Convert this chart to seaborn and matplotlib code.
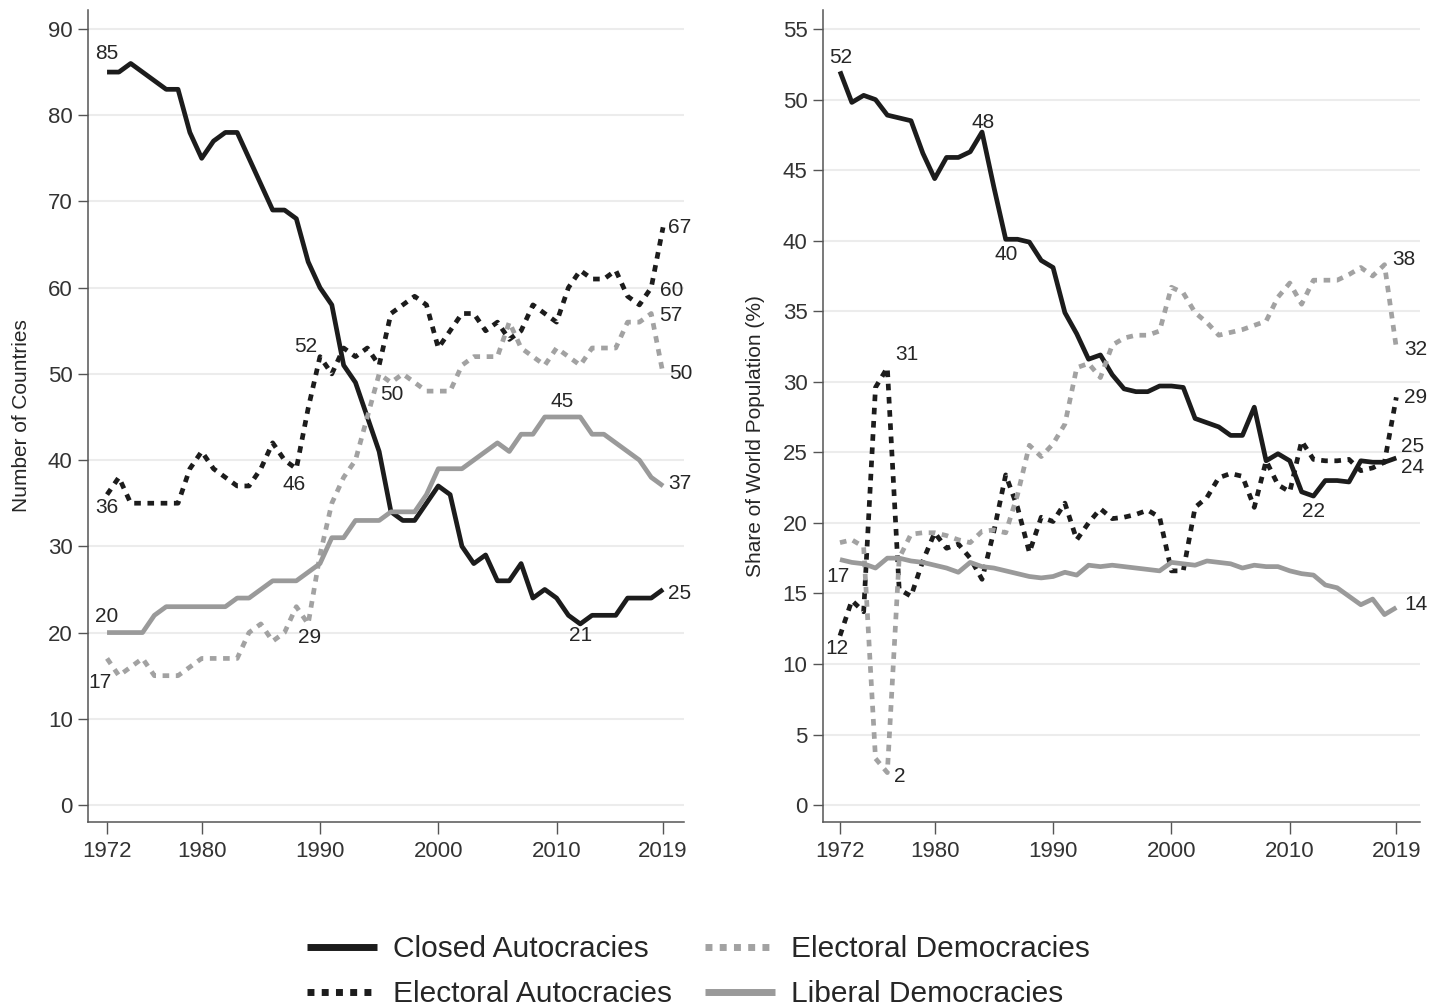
import matplotlib
matplotlib.use("Agg")
import matplotlib.pyplot as plt
from matplotlib.lines import Line2D
import pandas as pd
import seaborn as sns

# ---------------------------------------------------------------- data
years = list(range(1972, 2020))
regimes = ["Closed Autocracies", "Electoral Autocracies",
           "Electoral Democracies", "Liberal Democracies"]

# Number of countries per regime type
closed_aut_countries = [85, 85, 86, 85, 84, 83, 83, 78, 75, 77,
                        78, 78, 75, 72, 69, 69, 68, 63, 60, 58,
                        51, 49, 45, 41, 34, 33, 33, 35, 37, 36,
                        30, 28, 29, 26, 26, 28, 24, 25, 24, 22,
                        21, 22, 22, 22, 24, 24, 24, 25]
electoral_aut_countries = [36, 38, 35, 35, 35, 35, 35, 39, 41, 39,
                           38, 37, 37, 39, 42, 40, 39, 46, 52, 50,
                           53, 52, 53, 51, 57, 58, 59, 58, 53, 55,
                           57, 57, 55, 56, 54, 55, 58, 57, 56, 60,
                           62, 61, 61, 62, 59, 58, 60, 67]
electoral_dem_countries = [17, 15, 16, 17, 15, 15, 15, 16, 17, 17,
                           17, 17, 20, 21, 19, 20, 23, 21, 29, 35,
                           38, 40, 45, 50, 49, 50, 49, 48, 48, 48,
                           51, 52, 52, 52, 56, 53, 52, 51, 53, 52,
                           51, 53, 53, 53, 56, 56, 57, 50]
liberal_dem_countries = [20, 20, 20, 20, 22, 23, 23, 23, 23, 23,
                         23, 24, 24, 25, 26, 26, 26, 27, 28, 31,
                         31, 33, 33, 33, 34, 34, 34, 36, 39, 39,
                         39, 40, 41, 42, 41, 43, 43, 45, 45, 45,
                         45, 43, 43, 42, 41, 40, 38, 37]

# Share of world population (%) per regime type
closed_aut_pop = [52.0, 49.8, 50.3, 50.0, 48.9, 48.7, 48.5, 46.2, 44.4, 45.9,
                  45.9, 46.3, 47.7, 43.8, 40.1, 40.1, 39.9, 38.6, 38.1, 34.9,
                  33.4, 31.6, 31.9, 30.5, 29.5, 29.3, 29.3, 29.7, 29.7, 29.6,
                  27.4, 27.1, 26.8, 26.2, 26.2, 28.2, 24.4, 24.9, 24.4, 22.2,
                  21.9, 23.0, 23.0, 22.9, 24.4, 24.3, 24.3, 24.6]
electoral_aut_pop = [12.0, 14.5, 13.7, 29.6, 31.0, 15.3, 14.8, 17.3, 19.3, 18.2,
                     18.5, 17.5, 16.0, 19.4, 23.4, 21.1, 17.9, 20.4, 20.1, 21.4,
                     18.8, 20.0, 21.0, 20.3, 20.4, 20.6, 20.9, 20.4, 16.6, 16.6,
                     21.1, 21.8, 23.2, 23.5, 23.3, 21.1, 24.4, 22.7, 22.2, 25.8,
                     24.5, 24.4, 24.4, 24.5, 23.7, 23.9, 24.3, 28.9]
electoral_dem_pop = [18.6, 18.8, 18.3, 3.3, 2.3, 17.5, 19.2, 19.3, 19.3, 19.1,
                     18.8, 18.6, 19.4, 19.5, 19.3, 22.0, 25.5, 24.7, 25.6, 27.0,
                     31.0, 31.3, 30.3, 32.6, 33.1, 33.3, 33.3, 33.6, 36.7, 36.3,
                     34.9, 34.2, 33.3, 33.5, 33.7, 34.0, 34.3, 36.0, 37.0, 35.5,
                     37.2, 37.2, 37.2, 37.6, 38.1, 37.5, 38.3, 32.4]
liberal_dem_pop = [17.4, 17.2, 17.1, 16.8, 17.5, 17.5, 17.3, 17.2, 17.0, 16.8,
                   16.5, 17.2, 16.9, 16.8, 16.6, 16.4, 16.2, 16.1, 16.2, 16.5,
                   16.3, 17.0, 16.9, 17.0, 16.9, 16.8, 16.7, 16.6, 17.2, 17.1,
                   17.0, 17.3, 17.2, 17.1, 16.8, 17.0, 16.9, 16.9, 16.6, 16.4,
                   16.3, 15.6, 15.4, 14.8, 14.2, 14.6, 13.5, 14.0]

x_ticks = [1972, 1980, 1990, 2000, 2010, 2019]
y_ticks_countries = list(range(0, 91, 10))
y_ticks_pop = list(range(0, 56, 5))

# value labels: (regime, year, x offset px, y offset px)
labels_countries = [
    ("Closed Autocracies", 1972, 0, 19),
    ("Closed Autocracies", 2012, 0, -12),
    ("Closed Autocracies", 2019, 17, -4),
    ("Electoral Autocracies", 1972, 0, -13),
    ("Electoral Autocracies", 1989, -14, -76),
    ("Electoral Autocracies", 1990, -14, 10),
    ("Electoral Autocracies", 2018, 20, -3),
    ("Electoral Autocracies", 2019, 17, 0),
    ("Electoral Democracies", 1972, -7, -24),
    ("Electoral Democracies", 1990, -10, -83),
    ("Electoral Democracies", 1995, 13, -21),
    ("Electoral Democracies", 2018, 20, -2),
    ("Electoral Democracies", 2019, 18, 0),
    ("Liberal Democracies", 1972, 0, 16),
    ("Liberal Democracies", 2010, 6, 15),
    ("Liberal Democracies", 2019, 17, 2),
]
labels_pop = [
    ("Closed Autocracies", 1972, 1, 14),
    ("Closed Autocracies", 1984, 1, 10),
    ("Closed Autocracies", 1986, 0, -15),
    ("Closed Autocracies", 2012, 0, -15),
    ("Closed Autocracies", 2019, 16, 11),
    ("Electoral Autocracies", 1972, -3, -13),
    ("Electoral Autocracies", 1976, 20, 13),
    ("Electoral Autocracies", 2018, 28, -5),
    ("Electoral Autocracies", 2019, 19, 0),
    ("Electoral Democracies", 1976, 12, -4),
    ("Electoral Democracies", 2018, 19, 5),
    ("Electoral Democracies", 2019, 19, -2),
    ("Liberal Democracies", 1972, -2, -17),
    ("Liberal Democracies", 2019, 20, 3),
]

# ---------------------------------------------------------------- styles
palette = {
    "Closed Autocracies": "#1c1c1c",
    "Electoral Autocracies": "#1c1c1c",
    "Electoral Democracies": "#a2a2a2",
    "Liberal Democracies": "#9a9a9a",
}
dash_map = {
    "Closed Autocracies": "",
    "Electoral Autocracies": (1.4, 1.4),
    "Electoral Democracies": (1.4, 1.4),
    "Liberal Democracies": "",
}

sns.set_theme(style="ticks")
plt.rcParams["font.family"] = ["Liberation Sans", "DejaVu Sans"]

W, H = 1435, 1008
fig = plt.figure(figsize=(W / 100, H / 100), dpi=100)
fig.patch.set_facecolor("white")


def long_frame(series):
    rows = []
    for regime, vals in zip(regimes, series):
        for yr, v in zip(years, vals):
            rows.append({"year": yr, "value": v, "regime": regime})
    return pd.DataFrame(rows)


def draw_panel(rect, series, xlim, ylim, yticks, ylabel, ylabel_xy, labels):
    ax = fig.add_axes(rect)
    df = long_frame(series)
    sns.lineplot(data=df, x="year", y="value", hue="regime", style="regime",
                 palette=palette, dashes=dash_map, hue_order=regimes,
                 style_order=regimes, linewidth=3.4, estimator=None,
                 sort=False, legend=False, ax=ax)
    for ln in ax.lines:
        ln.set_dash_capstyle("butt")
        ln.set_solid_capstyle("butt")
        ln.set_solid_joinstyle("round")

    ax.set_xlim(*xlim)
    ax.set_ylim(*ylim)
    ax.set_xticks(x_ticks)
    ax.set_yticks(yticks)
    ax.set_xlabel("")
    ax.set_ylabel(ylabel, fontsize=15, color="#262626", va="center")
    ax.yaxis.set_label_coords(*ylabel_xy)

    ax.yaxis.grid(True, color="#ececec", linewidth=1.5)
    ax.xaxis.grid(False)
    ax.set_axisbelow(True)
    sns.despine(ax=ax)
    for side in ("left", "bottom"):
        ax.spines[side].set_color("#555555")
        ax.spines[side].set_linewidth(1.1)
    ax.tick_params(axis="y", length=7, width=1.0, color="#555555", pad=4,
                   labelsize=16, labelcolor="#333333")
    ax.tick_params(axis="x", length=8.5, width=1.0, color="#555555", pad=5,
                   labelsize=16, labelcolor="#333333")

    lookup = {r: dict(zip(years, s)) for r, s in zip(regimes, series)}
    for regime, yr, dx, dy in labels:
        v = lookup[regime][yr]
        ax.annotate(f"{v:.0f}", xy=(yr, v), xytext=(dx, dy),
                    textcoords="offset pixels", ha="center", va="center",
                    fontsize=15, color="#262626")
    return ax


draw_panel([88 / W, 186 / H, 596 / W, 812 / H],
           [closed_aut_countries, electoral_aut_countries,
            electoral_dem_countries, liberal_dem_countries],
           (1970.39, 2020.77), (-1.97, 92.2), y_ticks_countries,
           "Number of Countries", (-0.111, 0.5), labels_countries)

draw_panel([822.7 / W, 186 / H, 597.3 / W, 812 / H],
           [closed_aut_pop, electoral_aut_pop,
            electoral_dem_pop, liberal_dem_pop],
           (1970.54, 2021.0), (-1.2, 56.35), y_ticks_pop,
           "Share of World Population (%)", (-0.112, 0.475), labels_pop)

# shared legend under both panels
handles = []
for r in regimes:
    if dash_map[r] == "":
        h = Line2D([], [], color=palette[r], linewidth=5, solid_capstyle="butt")
    else:
        h = Line2D([], [], color=palette[r], linewidth=5, dashes=(1.0, 1.05),
                   dash_capstyle="butt")
    handles.append(h)
fig.legend(handles, regimes, loc="upper left",
           bbox_to_anchor=(307 / W, 1 - 935 / H), ncol=2, frameon=False,
           borderpad=0, borderaxespad=0, handlelength=2.34, handletextpad=0.54,
           columnspacing=1.1, labelspacing=0.57, fontsize=21.5,
           labelcolor="#262626")

fig.savefig("out.png", dpi=100, facecolor="white")
